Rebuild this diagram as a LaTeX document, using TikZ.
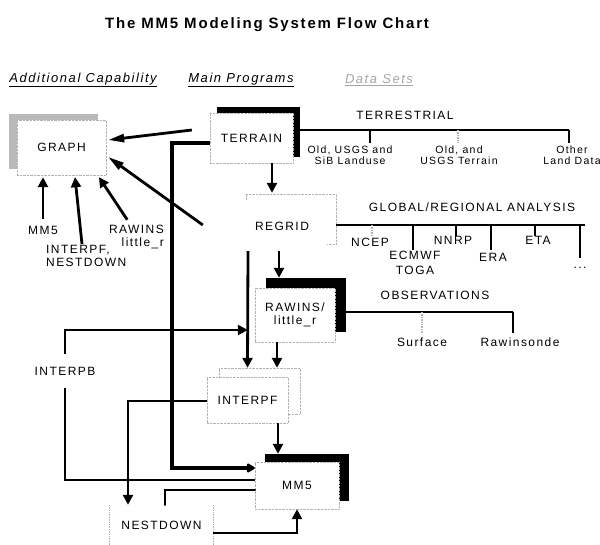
\documentclass[tikz,border=0pt]{standalone}
\usepackage{fontspec}
\setmainfont{Liberation Sans}
\newfontfamily\chartfont[LetterSpace=12]{Liberation Sans}
\usepackage{tikz}
\usetikzlibrary{
    arrows.meta,
    positioning,
    shadows
}
\tikzstyle{txt} = [
    font=\chartfont\fontsize{12}{13}\selectfont,
    align=center,
    inner sep=1pt
]
\tikzstyle{smalltxt} = [
    font=\chartfont\fontsize{10.5}{10.5}\selectfont,
    align=center,
    inner sep=1pt
]
\tikzstyle{headtxt} = [
    font=\chartfont\itshape\fontsize{13}{14}\selectfont,
    inner sep=1pt
]
\tikzstyle{titletxt} = [
    font=\chartfont\bfseries\fontsize{15}{16}\selectfont,
    inner sep=1pt
]
\tikzstyle{program} = [
    txt,
    rectangle,
    draw=gray!60,
    densely dotted,
    fill=white
]
\tikzstyle{tree} = [
    line width=1.6pt,
    draw=black
]
\tikzstyle{faint} = [
    line width=1.4pt,
    draw=gray!60,
    densely dotted
]
\tikzstyle{link} = [
    line width=2.8pt,
    draw=black
]
\tikzstyle{linkarrow} = [
    link,
    -{Triangle[width=10pt,length=10pt]}
]
\tikzstyle{longarrow} = [
    link,
    -{Triangle[width=8pt,length=16pt]}
]
\tikzstyle{mainline} = [
    line width=4.4pt,
    draw=black,
    -{Triangle[width=10pt,length=9pt,round]}
]
\tikzset{
    blackshadow/.style 2 args={general shadow={shadow xshift=#1, shadow yshift=#2, fill=black}},
    greyshadow/.style 2 args={general shadow={shadow xshift=#1, shadow yshift=#2, fill=gray!55}},
    dotshadow/.style 2 args={general shadow={shadow xshift=#1, shadow yshift=#2, draw=gray!60, densely dotted, fill=white}}
}

\begin{document}
\begin{tikzpicture}[x=1pt, y=-1pt]
        \useasboundingbox (0,0) rectangle (600,545);

        % Title and column heads
        \node[titletxt] (title) at (267,25) {The MM5 Modeling System Flow Chart};
        \node[headtxt] (headadd) at (83,80) {\underline{Additional Capability}};
        \node[headtxt] (headmain) at (241,80) {\underline{Main Programs}};
        \node[headtxt, text=gray!70] (headdata) at (379,80) {\underline{Data Sets}};

        % Main programs
        \node[program, blackshadow={7pt}{5.5pt}, minimum width=83pt, minimum height=50pt] (terrain) at (251.5,138) {TERRAIN};
        \node[program, draw=none, dotshadow={9pt}{7pt}, minimum width=90pt, minimum height=50pt] (regrid) at (282,226) {REGRID};
        \node[program, blackshadow={11pt}{9.5pt}, minimum width=80pt, minimum height=54pt] (rawins) at (295,315) {RAWINS/\\little\_r};
        \node[program, dotshadow={12pt}{9pt}, minimum width=81pt, minimum height=46pt] (interpf) at (247.5,400) {INTERPF};
        \node[program, blackshadow={10pt}{8pt}, minimum width=84pt, minimum height=47pt] (mmfive) at (297,485.5) {MM5};
        \node[program, draw=none, minimum width=103pt, minimum height=40pt] (nestdown) at (161.5,525) {NESTDOWN};
        \draw[faint, line width=0.8pt] (nestdown.north west) -- (nestdown.south west);
        \draw[faint, line width=0.8pt] (nestdown.north east) -- (nestdown.south east);

        % Additional capability
        \node[program, greyshadow={-8pt}{6pt}, minimum width=89pt, minimum height=55pt] (graph) at (61.5,147.5) {GRAPH};
        \node[txt] (lblmm) at (43,230) {MM5};
        \node[txt, anchor=west, align=left] (lblinterp) at (45,256) {INTERPF,\\NESTDOWN};
        \node[txt, anchor=east, align=right] (lblraw) at (165,237) {RAWINS\\little\_r};
        \node[txt, minimum height=33pt] (interpb) at (65,371) {INTERPB};

        % Inputs to GRAPH
        \draw[longarrow] ([xshift=-18pt,yshift=8pt]terrain.west) -- ([xshift=2pt,yshift=7.5pt]graph.east);
        \draw[longarrow] ([xshift=-34pt,yshift=1pt]regrid.west) -- ([xshift=2pt,yshift=-9.5pt]graph.east);
        \draw[linkarrow, shorten <=6pt] (lblmm.north) -- ([xshift=-18.5pt,yshift=-2pt]graph.south);
        \draw[linkarrow] ([xshift=37pt]lblinterp.north west) -- ([xshift=13.5pt,yshift=-2pt]graph.south);
        \draw[linkarrow, shorten <=5pt] ([xshift=-35pt]lblraw.north east) -- ([xshift=37.5pt,yshift=-2pt]graph.south);

        % Main flow
        \draw[linkarrow] ([xshift=20.5pt]terrain.south) -- ([xshift=-10pt,yshift=8pt]regrid.north);
        \draw[linkarrow] ([xshift=-3pt]regrid.south) -- ([xshift=-16pt,yshift=10pt]rawins.north);
        \draw[linkarrow] ([xshift=-34pt]regrid.south) -- ([yshift=9pt]interpf.north);
        \draw[linkarrow] ([xshift=-18pt]rawins.south) -- ([xshift=29.5pt,yshift=9pt]interpf.north);
        \draw[linkarrow] ([xshift=30.5pt]interpf.south) -- ([xshift=-19pt,yshift=8pt]mmfive.north);

        % Terrain straight to MM5 (thick, left side)
        \draw[mainline] ([yshift=-5pt]terrain.west) -- ++(-38,0) |- ([yshift=17.5pt]mmfive.west);

        % MM5 back through INTERPB
        \draw[link] ([yshift=5.5pt]mmfive.west) -| (interpb.south);
        \draw[linkarrow, shorten >=7pt] (interpb.north) |- ([yshift=-15pt]rawins.west);

        % Nesting loop
        \draw[linkarrow] ([yshift=-1pt]interpf.west) -| ([xshift=-33.5pt]nestdown.north);
        \draw[link, line cap=round] ([yshift=-4.5pt]mmfive.west) -| ([xshift=3.5pt]nestdown.north);
        \draw[linkarrow] ([yshift=-8pt]nestdown.east) -| (mmfive.south);

        % Terrestrial data sets
        \node[txt] (terrestrial) at (405,115) {TERRESTRIAL};
        \draw[tree] ([xshift=7pt,yshift=8pt]terrain.east) -- (569,130) coordinate (terrend);
        \foreach \x in {370,569}
            \draw[tree] (\x,130) -- ++(0,13);
        \draw[faint] (458,130) -- ++(0,13);
        \node[smalltxt] (landuse) at (350,155) {Old, USGS and\\SiB Landuse};
        \node[smalltxt] (terrdata) at (459,155) {Old, and\\USGS Terrain};
        \node[smalltxt] (otherland) at (572,155) {Other\\Land Data};

        % Global / regional analyses
        \node[txt] (analysis) at (472,207) {GLOBAL/REGIONAL ANALYSIS};
        \draw[tree] ([xshift=9pt,yshift=1pt]regrid.east) -- (585,225) coordinate (anaend);
        \draw[faint] (372,225) -- ++(0,11);
        \foreach \x/\len in {413/25, 456/11, 491/25, 535/11, 580/33}
            \draw[tree] (\x,225) -- ++(0,\len);
        \node[txt] (ncep) at (370,242) {NCEP};
        \node[txt] (ecmwf) at (415,263) {ECMWF\\[2pt]TOGA};
        \node[txt] (nnrp) at (453,240) {NNRP};
        \node[txt] (era) at (493,257) {ERA};
        \node[txt] (eta) at (538,240) {ETA};
        \node[txt] (otherana) at (580,268) {...};

        % Observations
        \node[txt] (observations) at (435,295) {OBSERVATIONS};
        \draw[tree] ([xshift=10pt,yshift=3pt]rawins.east) -- (513,312) coordinate (obsend);
        \draw[faint] (422,312) -- ++(0,21);
        \draw[tree] (513,312) -- ++(0,21);
        \node[txt] (surface) at (422,342) {Surface};
        \node[txt] (rawinsonde) at (520,342) {Rawinsonde};
    \end{tikzpicture}
\end{document}
